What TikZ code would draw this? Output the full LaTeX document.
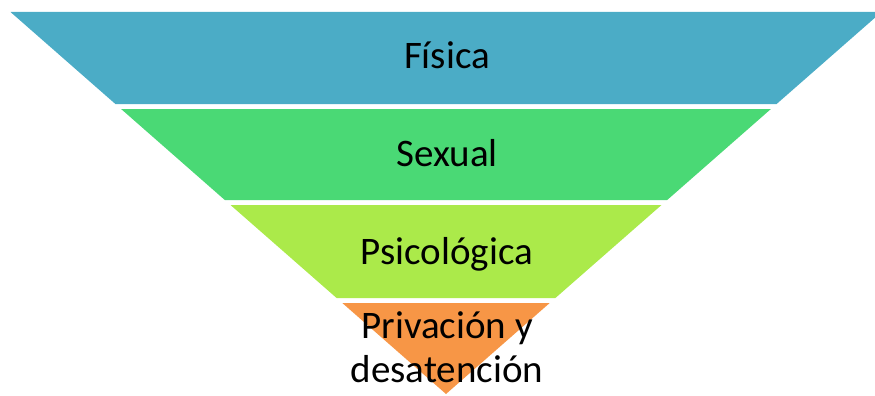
\documentclass[tikz,border=0pt]{standalone}
\usepackage{fontspec}
\setmainfont{Carlito}
\definecolor{cblue}{HTML}{4BACC6}
\definecolor{cgreen}{HTML}{4AD975}
\definecolor{clime}{HTML}{ABEA4A}
\definecolor{corange}{HTML}{F79646}
\tikzset{
  bandlbl/.style={anchor=base, inner sep=0pt, text=black, font=\fontsize{39}{46}\selectfont},
}
\begin{document}
\begin{tikzpicture}[x=1pt,y=-1pt]
\useasboundingbox (0,0) rectangle (875,396);
\clip (0,0) rectangle (875,396);
\fill[cblue] (10.5,12) -- (881.5,12) -- (776.6,104) -- (115.4,104) -- cycle;
\fill[cgreen] (121.1,109) -- (770.9,109) -- (667.2,200) -- (224.8,200) -- cycle;
\fill[clime] (230.5,205) -- (661.5,205) -- (555.4,298) -- (336.6,298) -- cycle;
\fill[corange] (342.3,303) -- (549.7,303) -- (446,394) -- cycle;
\node[bandlbl] (fisica) at (447,68) {Física};
\node[bandlbl] (sexual) at (447,166) {Sexual};
\node[bandlbl] (psico) at (447,264) {Psicológica};
\node[bandlbl] (priv) at (447,338) {Privación y};
\node[bandlbl] (desat) at (447,382) {desatención};
\end{tikzpicture}
\end{document}
